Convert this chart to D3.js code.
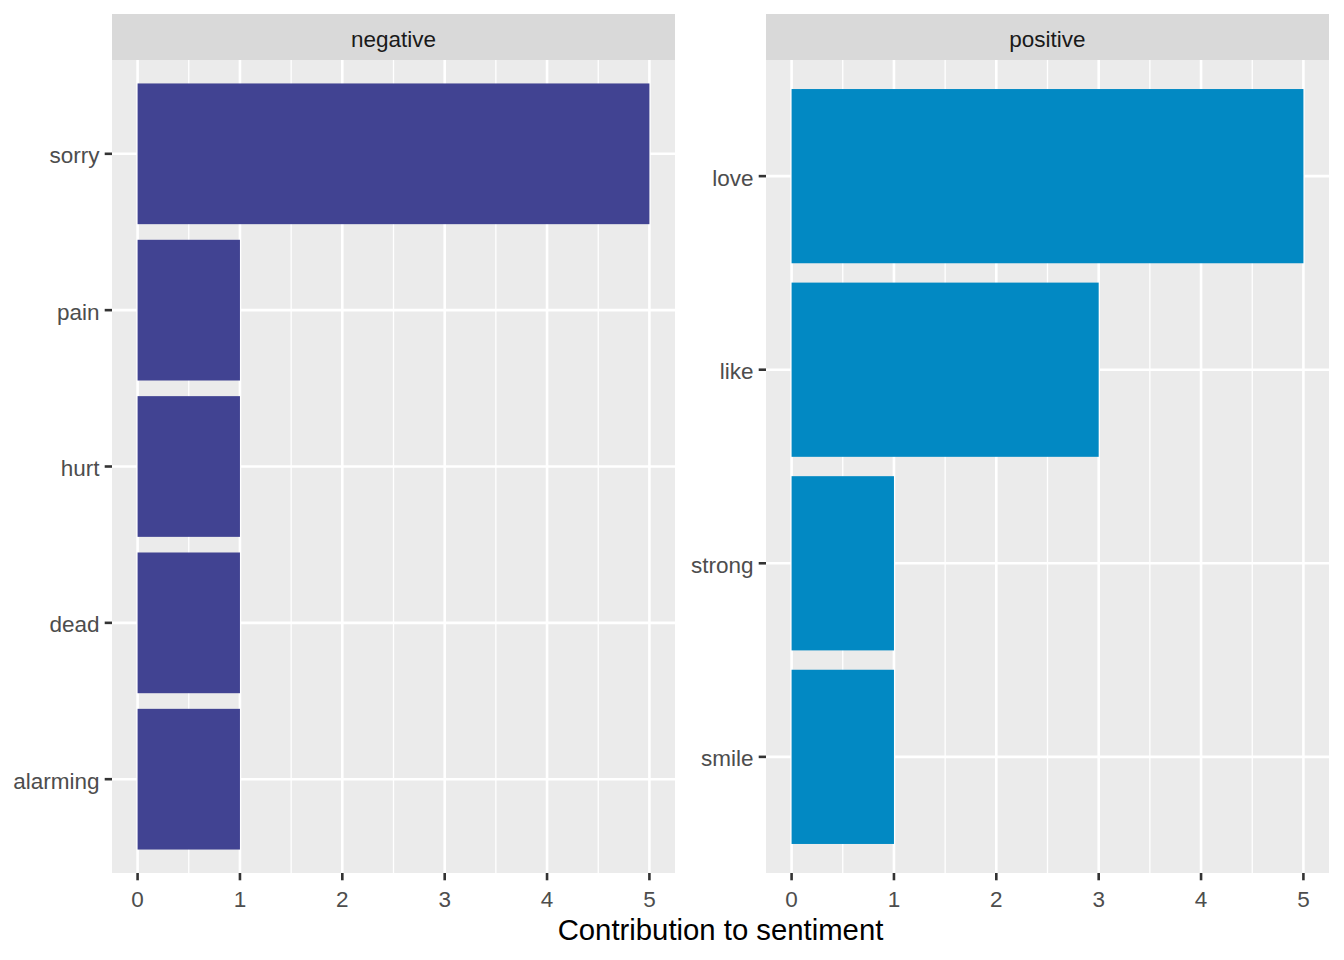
<!DOCTYPE html>
<html>
<head>
<meta charset="utf-8">
<script src="https://cdn.jsdelivr.net/npm/d3@7"></script>
<style>
  body { margin: 0; background: #fff; }
  text { font-family: "Liberation Sans", Arial, sans-serif; }
</style>
</head>
<body>
<svg id="chart"></svg>
<script>
const negWords = ["sorry", "pain", "hurt", "dead", "alarming"];
const negValues = [5, 1, 1, 1, 1];
const posWords = ["love", "like", "strong", "smile"];
const posValues = [5, 3, 1, 1];
const xTicks = [0, 1, 2, 3, 4, 5];

const width = 1344, height = 960;
const svg = d3.select("#chart").attr("width", width).attr("height", height);

const panels = [
  { name: "negative", words: negWords, values: negValues, color: "#414392", x0: 112, x1: 675 },
  { name: "positive", words: posWords, values: posValues, color: "#0289C3", x0: 766, x1: 1329 }
];
const stripTop = 14, plotTop = 60, plotBottom = 873;
const fs = 22.5;

panels.forEach(p => {
  const x = d3.scaleLinear().domain([-0.25, 5.25]).range([p.x0, p.x1]);
  const n = p.words.length;
  // ggplot discrete scale: categories at 1..n, expand 0.6 each side; first word on top
  const y = d3.scaleLinear().domain([0.4, n + 0.6]).range([plotTop, plotBottom]);
  const step = Math.abs(y(2) - y(1));

  const g = svg.append("g");

  // strip
  g.append("rect").attr("x", p.x0).attr("y", stripTop)
    .attr("width", p.x1 - p.x0).attr("height", plotTop - stripTop)
    .attr("fill", "#D9D9D9");
  g.append("text").attr("x", (p.x0 + p.x1) / 2).attr("y", (stripTop + plotTop) / 2 + 2)
    .attr("text-anchor", "middle").attr("dominant-baseline", "central")
    .attr("font-size", fs).attr("fill", "#1A1A1A").text(p.name);

  // panel background
  g.append("rect").attr("x", p.x0).attr("y", plotTop)
    .attr("width", p.x1 - p.x0).attr("height", plotBottom - plotTop)
    .attr("fill", "#EBEBEB");

  // minor grid
  const minor = d3.range(0.5, 5.5, 1);
  g.selectAll(".minor").data(minor).enter().append("line")
    .attr("x1", d => x(d)).attr("x2", d => x(d))
    .attr("y1", plotTop).attr("y2", plotBottom)
    .attr("stroke", "#fff").attr("stroke-width", 1.3);

  // major grid
  g.selectAll(".majx").data(xTicks).enter().append("line")
    .attr("x1", d => x(d)).attr("x2", d => x(d))
    .attr("y1", plotTop).attr("y2", plotBottom)
    .attr("stroke", "#fff").attr("stroke-width", 2.6);
  g.selectAll(".majy").data(p.words).enter().append("line")
    .attr("x1", p.x0).attr("x2", p.x1)
    .attr("y1", (d, i) => y(i + 1)).attr("y2", (d, i) => y(i + 1))
    .attr("stroke", "#fff").attr("stroke-width", 2.6);

  // bars
  g.selectAll(".bar").data(p.values).enter().append("rect")
    .attr("x", x(0))
    .attr("y", (d, i) => y(i + 1) - step * 0.45)
    .attr("width", d => x(d) - x(0))
    .attr("height", step * 0.9)
    .attr("fill", p.color);

  // x axis
  g.selectAll(".xt").data(xTicks).enter().append("line")
    .attr("x1", d => x(d)).attr("x2", d => x(d))
    .attr("y1", plotBottom).attr("y2", plotBottom + 7.3)
    .attr("stroke", "#333333").attr("stroke-width", 2.6);
  g.selectAll(".xl").data(xTicks).enter().append("text")
    .attr("x", d => x(d)).attr("y", plotBottom + 33.5)
    .attr("text-anchor", "middle").attr("font-size", fs)
    .attr("fill", "#4D4D4D").text(d => d);

  // y axis
  g.selectAll(".yt").data(p.words).enter().append("line")
    .attr("x1", p.x0 - 7.3).attr("x2", p.x0)
    .attr("y1", (d, i) => y(i + 1)).attr("y2", (d, i) => y(i + 1))
    .attr("stroke", "#333333").attr("stroke-width", 2.6);
  g.selectAll(".yl").data(p.words).enter().append("text")
    .attr("x", p.x0 - 12.5).attr("y", (d, i) => y(i + 1) + 2)
    .attr("text-anchor", "end").attr("dominant-baseline", "central")
    .attr("font-size", fs).attr("fill", "#4D4D4D").text(d => d);
});

svg.append("text").attr("x", (112 + 1329) / 2).attr("y", 940)
  .attr("text-anchor", "middle").attr("font-size", 29.3)
  .attr("fill", "#000").text("Contribution to sentiment");
</script>
</body>
</html>
